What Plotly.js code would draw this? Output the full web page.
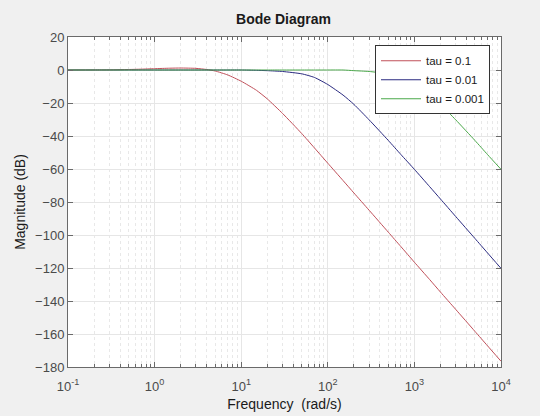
<!DOCTYPE html>
<html>
<head>
<meta charset="utf-8">
<script src="https://cdn.plot.ly/plotly-3.0.1.min.js"></script>
<style>html,body{margin:0;padding:0;background:#f0f0f0;}#chart{width:540px;height:416px;}</style>
</head>
<body>
<div id="chart"></div>
<script>
const freq = [0.1, 0.2, 0.3, 0.5, 0.7, 1, 1.5, 2, 3, 4, 5, 7, 10, 15, 20, 30, 50, 70, 100, 150, 200, 300, 500, 700, 1000, 1500, 2000, 3000, 5000, 7000, 10000];
// Magnitude (dB) for each tau
const magTau01 = [0, 0.05, 0.1, 0.3, 0.5, 0.8, 1.1, 1.2, 1.0, 0.3, -0.6, -3, -6.8, -12.3, -17.5, -26.3, -38.5, -47.2, -56.5, -67, -74.5, -85, -98.3, -107.1, -116.5, -127, -134.6, -145.1, -158.4, -167.2, -176.5];
const magTau001 = [0, 0, 0, 0, 0, 0, 0, 0, 0, 0, 0, 0, 0, -0.2, -0.4, -0.9, -2.3, -4.5, -8.8, -15.2, -20.8, -30.2, -42.7, -51.3, -60.2, -70.7, -78.2, -88.8, -102.1, -110.9, -120.2];
const magTau0001 = [0, 0, 0, 0, 0, 0, 0, 0, 0, 0, 0, 0, 0, 0, 0, 0, 0, 0, 0, 0, -0.4, -0.9, -2.3, -4.5, -8.8, -15.2, -20.8, -30.2, -42.7, -51.3, -60.2];
const seriesNames = ['tau = 0.1', 'tau = 0.01', 'tau = 0.001'];
const seriesColors = ['#c0505a', '#2a2a80', '#4aa84a'];
const xTickVals = [0.1, 1, 10, 100, 1000, 10000];
const xTickText = ['10<sup>-1</sup>', '10<sup>0</sup>', '10<sup>1</sup>', '10<sup>2</sup>', '10<sup>3</sup>', '10<sup>4</sup>'];
const yTickVals = [-180, -160, -140, -120, -100, -80, -60, -40, -20, 0, 20];

const mags = [magTau01, magTau001, magTau0001];
const traces = mags.map((m, i) => ({
  x: freq, y: m, type: 'scatter', mode: 'lines', name: seriesNames[i],
  line: {color: seriesColors[i], width: 1, shape: 'spline', smoothing: 0.5}
}));

const fam = 'Liberation Sans, Arial, sans-serif';
const axisCommon = {
  showline: true, linecolor: '#6a6a6a', linewidth: 1, mirror: 'ticks',
  ticks: 'inside', ticklen: 5, tickcolor: '#6a6a6a',
  gridcolor: '#e6e6e6', gridwidth: 1, zeroline: false,
  tickfont: {family: fam, size: 13, color: '#4a4a4a'}
};

const layout = {
  width: 540, height: 416,
  paper_bgcolor: '#f0f0f0', plot_bgcolor: '#ffffff',
  margin: {l: 67.5, r: 39, t: 37, b: 49.3},
  showlegend: true,
  title: {text: '<b>Bode Diagram</b>', x: 0.525, xanchor: 'center', y: 0.955, yanchor: 'middle',
    font: {family: fam, size: 14, color: '#1a1a1a'}},
  xaxis: Object.assign({}, axisCommon, {
    type: 'log', range: [-1, 4], tickvals: xTickVals, ticktext: xTickText,
    ticklabelstandoff: 7,
    minor: {ticks: 'inside', ticklen: 3, tickcolor: '#6a6a6a', showgrid: true, griddash: 'dot', gridcolor: '#e8e8e8', dtick: 'D1'},
    title: {text: 'Frequency  (rad/s)', standoff: 6, font: {family: fam, size: 14, color: '#1a1a1a'}}
  }),
  yaxis: Object.assign({}, axisCommon, {
    range: [-180, 20], tickvals: yTickVals,
    title: {text: 'Magnitude (dB)', standoff: 6, font: {family: fam, size: 14, color: '#1a1a1a'}}
  }),
  legend: {
    x: 0.9746, xanchor: 'right', y: 0.975, yanchor: 'top',
    bgcolor: '#ffffff', bordercolor: '#333333', borderwidth: 1,
    font: {family: fam, size: 11.5, color: '#1a1a1a'},
    tracegroupgap: 0, itemwidth: 40
  }
};

Plotly.newPlot('chart', traces, layout, {displayModeBar: false, staticPlot: true});
</script>
</body>
</html>
